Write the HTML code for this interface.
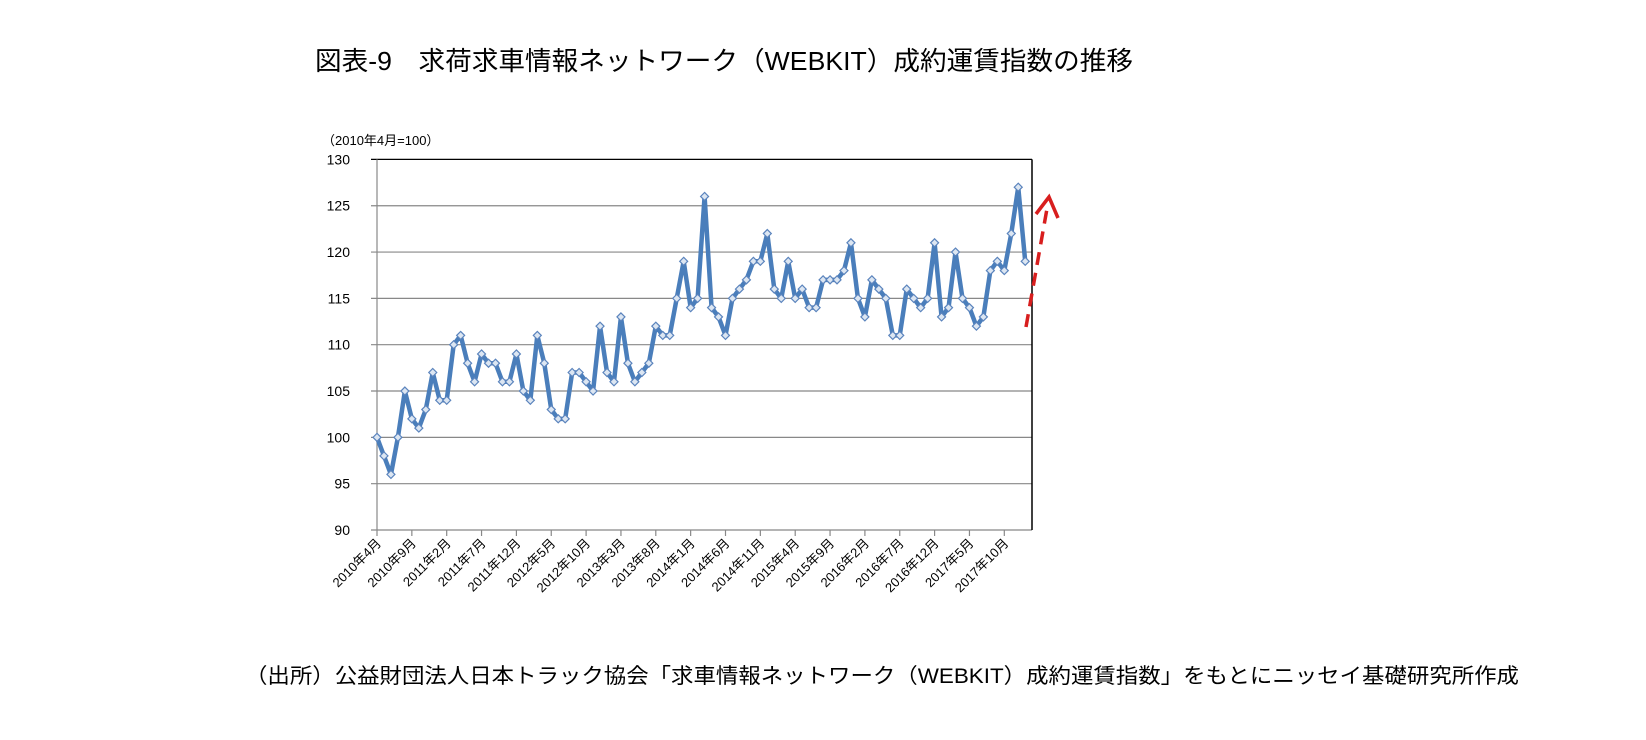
<!DOCTYPE html>
<html><head><meta charset="utf-8"><style>
html,body{margin:0;padding:0;background:#fff;}
svg{display:block;font-family:"Liberation Sans","Noto Sans CJK JP",sans-serif;}
</style></head><body>
<svg id="chart" width="1646" height="740" viewBox="0 0 1646 740">
<text x="315" y="70" font-size="26" textLength="818" lengthAdjust="spacingAndGlyphs" fill="#000">図表-9　求荷求車情報ネットワーク（WEBKIT）成約運賃指数の推移</text>
<text x="322" y="145" font-size="13" fill="#000">（2010年4月=100）</text>
<g id="grid"></g>
<g id="yticks"></g>
<g id="xticks"></g>
<g id="series"></g>
<g stroke="#d81e1e" stroke-width="3.5" fill="none">
<line x1="1026" y1="327" x2="1048" y2="203" stroke-dasharray="13,8"/>
<polyline points="1036,214 1049,197 1058,218"/>
</g>
<text x="245" y="683" font-size="21" textLength="1274" lengthAdjust="spacingAndGlyphs" fill="#000">（出所）公益財団法人日本トラック協会「求車情報ネットワーク（WEBKIT）成約運賃指数」をもとにニッセイ基礎研究所作成</text>
</svg>
<script>
const values = [100,98,96,100,105,102,101,103,107,104,104,110,111,108,106,109,108,108,106,106,109,105,104,111,108,103,102,102,107,107,106,105,112,107,106,113,108,106,107,108,112,111,111,115,119,114,115,126,114,113,111,115,116,117,119,119,122,116,115,119,115,116,114,114,117,117,117,118,121,115,113,117,116,115,111,111,116,115,114,115,121,113,114,120,115,114,112,113,118,119,118,122,127,119];
const xLabels = ["2010年4月","2010年9月","2011年2月","2011年7月","2011年12月","2012年5月","2012年10月","2013年3月","2013年8月","2014年1月","2014年6月","2014年11月","2015年4月","2015年9月","2016年2月","2016年7月","2016年12月","2017年5月","2017年10月"];
const yTicks = [90,95,100,105,110,115,120,125,130];
const labelEvery = 5;

const NS = "http://www.w3.org/2000/svg";
const X0 = 377, X1 = 1032, DX = 6.97, Y0 = 530, Y1 = 159.4, YMIN = 90, YMAX = 130;
const xs = i => X0 + i * DX;
const ys = v => Y0 - (v - YMIN) / (YMAX - YMIN) * (Y0 - Y1);
function mk(tag, attrs, parent) { const e = document.createElementNS(NS, tag); for (const k in attrs) e.setAttribute(k, attrs[k]); parent.appendChild(e); return e; }

const grid = document.getElementById('grid');
const yt = document.getElementById('yticks');
yTicks.forEach(v => {
  const y = ys(v);
  const l = mk('line', {x1: X0 - 6, x2: X1, y1: y, y2: y, stroke: v === YMAX ? '#000' : '#888', 'stroke-width': 1.2}, grid);
  
  
  const t = mk('text', {x: 350, y: y + 5, 'font-size': 14, 'text-anchor': 'end', fill: '#000'}, yt);
  t.textContent = v;
  
  
});
const ax = mk('line', {x1: X0, x2: X0, y1: Y1, y2: Y0, stroke: '#888', 'stroke-width': 1.2}, grid);


const rb = mk('line', {x1: X1, x2: X1, y1: Y1, y2: Y0, stroke: '#000', 'stroke-width': 1.5}, grid);



const xt = document.getElementById('xticks');
xLabels.forEach((lab, k) => {
  const x = xs(k * labelEvery);
  const tk = mk('line', {x1: x, x2: x, y1: Y0, y2: Y0 + 6, stroke: '#888', 'stroke-width': 1.2}, grid);
  
  
  const t = mk('text', {x: x + 5, y: Y0 + 14, 'font-size': 13, 'text-anchor': 'end', fill: '#000', transform: `rotate(-45 ${x + 5} ${Y0 + 14})`}, xt);
  t.textContent = lab;
  
  
});

const s = document.getElementById('series');
const pts = values.map((v, i) => xs(i).toFixed(2) + ',' + ys(v).toFixed(2)).join(' ');
const pl = mk('polyline', {points: pts, fill: 'none', stroke: '#4a7ebb', 'stroke-width': 4.5, 'stroke-linejoin': 'round'}, s);


values.forEach((v, i) => {
  const x = xs(i), y = ys(v), r = 4;
  const m = mk('polygon', {points: `${x},${y - r} ${x + r},${y} ${x},${y + r} ${x - r},${y}`, fill: '#dce6f2', stroke: '#5b84bd', 'stroke-width': 1.2}, s);
  
  
});
</script>
</body></html>
